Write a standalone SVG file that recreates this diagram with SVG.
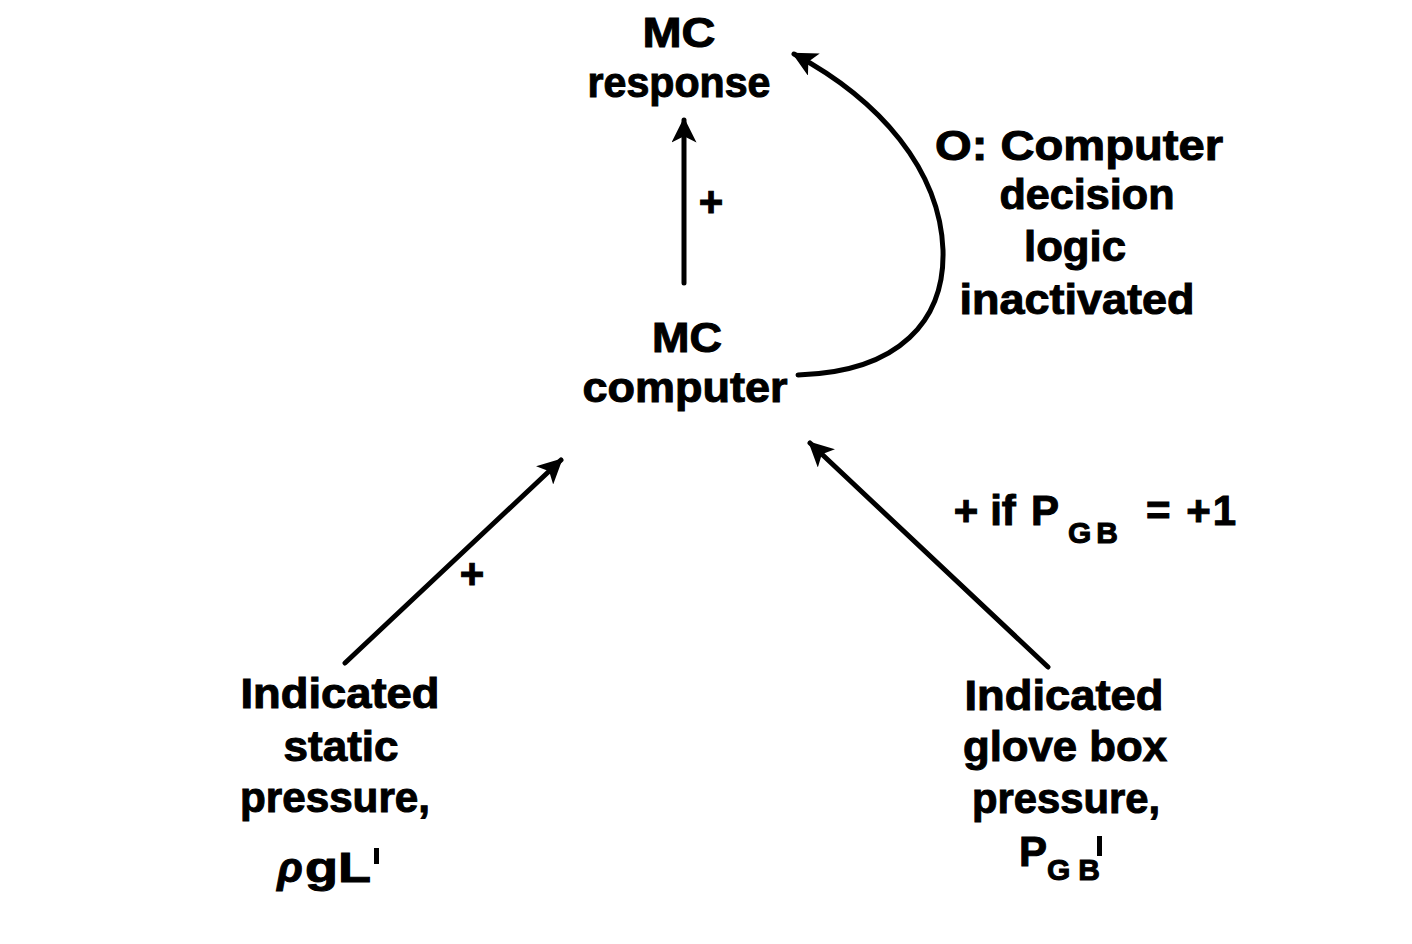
<svg xmlns="http://www.w3.org/2000/svg" width="1412" height="944" viewBox="0 0 1412 944">
<style>
text{font-family:"Liberation Sans",Arial,sans-serif;font-weight:bold;font-size:42px;fill:#000;stroke:#000;stroke-width:1;text-anchor:middle}
.sub{font-size:30px;letter-spacing:5px}
.conn{stroke:#000;stroke-width:5;fill:none;stroke-linecap:round}
</style>
<defs>
<marker id="ah" viewBox="0 0 10 10" refX="9" refY="5" markerWidth="5" markerHeight="5" orient="auto" markerUnits="strokeWidth">
<path d="M0,0 L10,5 L0,10 L2.5,5 Z" fill="#000"/>
</marker>
</defs>
<rect width="1412" height="944" fill="#fff"/>
<g id="connectors">
<line class="conn" x1="684" y1="283" x2="684" y2="120" marker-end="url(#ah)"/>
<line class="conn" x1="345" y1="663" x2="561" y2="460" marker-end="url(#ah)"/>
<line class="conn" x1="1048" y1="667" x2="810" y2="443" marker-end="url(#ah)"/>
<path class="conn" d="M798,375 C900,372 945,320 943,250 C940,170 880,100 794,54" marker-end="url(#ah)"/>
</g>
<g id="mc-response">
<text x="679" y="47" textLength="73" lengthAdjust="spacingAndGlyphs">MC</text>
<text x="679" y="97" textLength="183" lengthAdjust="spacingAndGlyphs">response</text>
</g>
<g id="mc-computer">
<text x="687" y="352" textLength="70" lengthAdjust="spacingAndGlyphs">MC</text>
<text x="685" y="402" textLength="205" lengthAdjust="spacingAndGlyphs">computer</text>
</g>
<g id="decision-logic">
<text x="1079" y="160" textLength="288" lengthAdjust="spacingAndGlyphs">O: Computer</text>
<text x="1087" y="209" textLength="175" lengthAdjust="spacingAndGlyphs">decision</text>
<text x="1075" y="261" textLength="102" lengthAdjust="spacingAndGlyphs">logic</text>
<text x="1077" y="314" textLength="235" lengthAdjust="spacingAndGlyphs">inactivated</text>
</g>
<g id="labels">
<text x="711" y="216">+</text>
<text x="472" y="588">+</text>
<text x="966" y="525">+</text>
<text x="1003" y="525">if</text>
<text x="1045" y="525">P</text>
<text class="sub" x="1068" y="543" style="text-anchor:start">GB</text>
<text x="1191" y="525" textLength="90" lengthAdjust="spacing">= +1</text>
</g>
<g id="static-pressure">
<text x="340" y="708" textLength="199" lengthAdjust="spacingAndGlyphs">Indicated</text>
<text x="341" y="761" textLength="115" lengthAdjust="spacingAndGlyphs">static</text>
<text x="335" y="812" textLength="190" lengthAdjust="spacingAndGlyphs">pressure,</text>
<text x="290" y="882" font-style="italic">ρ</text>
<text x="338" y="882" textLength="66" lengthAdjust="spacingAndGlyphs">gL</text>
<rect x="374" y="848" width="5" height="16" fill="#000"/>
</g>
<g id="glovebox-pressure">
<text x="1064" y="710" textLength="199" lengthAdjust="spacingAndGlyphs">Indicated</text>
<text x="1065" y="761" textLength="204" lengthAdjust="spacingAndGlyphs">glove box</text>
<text x="1066" y="813" textLength="188" lengthAdjust="spacingAndGlyphs">pressure,</text>
<text x="1033" y="866">P</text>
<text class="sub" x="1047" y="880" style="text-anchor:start;letter-spacing:8px">GB</text>
<rect x="1097" y="836" width="5" height="20" fill="#000"/>
</g>
</svg>
